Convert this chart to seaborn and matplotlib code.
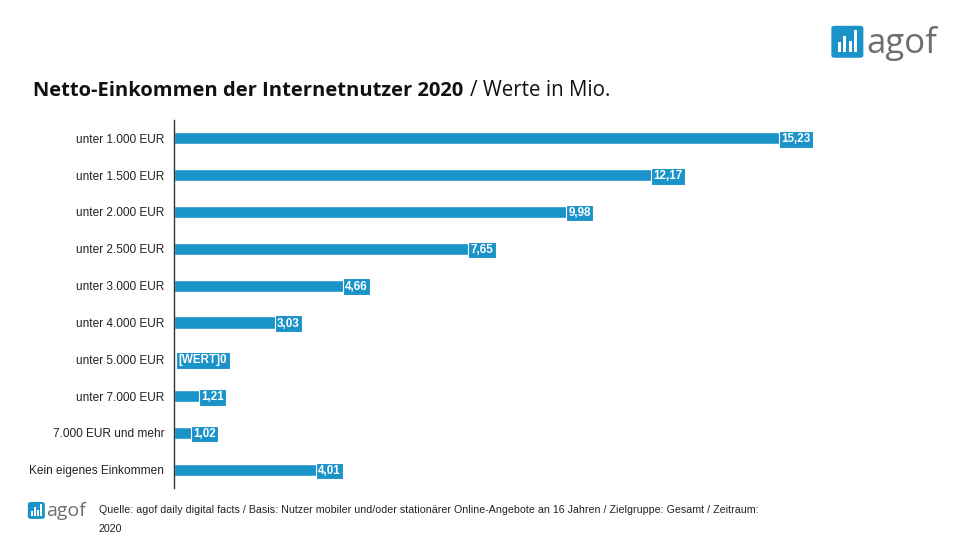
import matplotlib
matplotlib.use("Agg")
import matplotlib.pyplot as plt
from matplotlib.patches import FancyBboxPatch, Rectangle
import seaborn as sns
import pandas as pd

# -----------------------------
# data
# -----------------------------
categories = [
    "unter 1.000 EUR", "unter 1.500 EUR", "unter 2.000 EUR", "unter 2.500 EUR",
    "unter 3.000 EUR", "unter 4.000 EUR", "unter 5.000 EUR", "unter 7.000 EUR",
    "7.000 EUR und mehr", "Kein eigenes Einkommen",
]
values = [15.23, 12.17, 9.98, 7.65, 4.66, 3.03, 0.0, 1.21, 1.02, 4.01]
value_labels = ["15,23", "12,17", "9,98", "7,65", "4,66", "3,03", "[WERT]0", "1,21", "1,02", "4,01"]

BLUE = "#1a93c9"
GREY = "#6d6e71"

df = pd.DataFrame({"cat": categories, "val": values})

sns.set_theme(style="white")
plt.rcParams["font.family"] = ["Liberation Sans", "DejaVu Sans"]

fig = plt.figure(figsize=(9.6, 5.4), dpi=100)
ax = fig.add_axes([0.181, 0.096, 0.698, 0.682])

sns.barplot(data=df, x="val", y="cat", orient="h", color=BLUE, width=0.33,
            saturation=1, ax=ax)

ax.set_xlim(0, 16)
ax.set_xlabel("")
ax.set_ylabel("")
ax.set_xticks([])
ax.tick_params(axis="y", length=0, pad=7, labelsize=8.6, labelcolor="#222222")
for s in ["top", "right", "bottom"]:
    ax.spines[s].set_visible(False)
ax.spines["left"].set_color("#333333")
ax.spines["left"].set_linewidth(1.0)

# value labels (white on blue box at bar end)
for i, (v, lab) in enumerate(zip(values, value_labels)):
    if v <= 0:
        x, ha = 0.12, "left"
    else:
        x, ha = v - 0.02, "right"
    ax.text(x, i + 0.03, lab, ha=ha, va="center", color="white", fontsize=8.4,
            fontweight="bold",
            bbox=dict(facecolor=BLUE, edgecolor="white", linewidth=0.8,
                      boxstyle="square,pad=0.2"))

# title: bold part, then the plain part right after it
t1 = fig.text(0.034, 0.822, "Netto-Einkommen der Internetnutzer 2020", fontsize=14.5,
              fontweight="bold", family=["Open Sans", "DejaVu Sans"], color="#111111")
fig.canvas.draw()
bb = t1.get_window_extent().transformed(fig.transFigure.inverted())
fig.text(bb.x1 + 0.007, 0.822, "/ Werte in Mio.", fontsize=14.8,
         family=["Open Sans", "DejaVu Sans"], color="#111111")


def draw_logo(x0, y0, size, fs):
    # blue rounded square with white bars + "agof" text
    w = size / 9.6
    h = size / 5.4
    box = FancyBboxPatch((x0, y0), w, h, boxstyle="round,pad=0,rounding_size=0.004",
                         transform=fig.transFigure, facecolor=BLUE, edgecolor="none")
    fig.patches.append(box)
    heights = [0.3, 0.5, 0.35, 0.7]
    for k, hh in enumerate(heights):
        fig.patches.append(Rectangle((x0 + w * (0.2 + k * 0.17), y0 + h * 0.18),
                                     w * 0.1, h * hh, transform=fig.transFigure,
                                     facecolor="white", edgecolor="none"))
    fig.text(x0 + w * 1.08, y0 + h * 0.45, "agof", fontsize=fs, color=GREY,
             va="center", ha="left", family=["Open Sans", "DejaVu Sans"])


draw_logo(0.866, 0.893, 0.32, 25)
draw_logo(0.029, 0.039, 0.17, 14)

# footer
fig.text(0.103, 0.05, "Quelle: agof daily digital facts / Basis: Nutzer mobiler und/oder stationärer "
         "Online-Angebote an 16 Jahren / Zielgruppe: Gesamt / Zeitraum:",
         fontsize=7.7, color="#222222")
fig.text(0.103, 0.015, "2020", fontsize=7.7, color="#222222")

fig.savefig("out.png", dpi=100, facecolor="white")
